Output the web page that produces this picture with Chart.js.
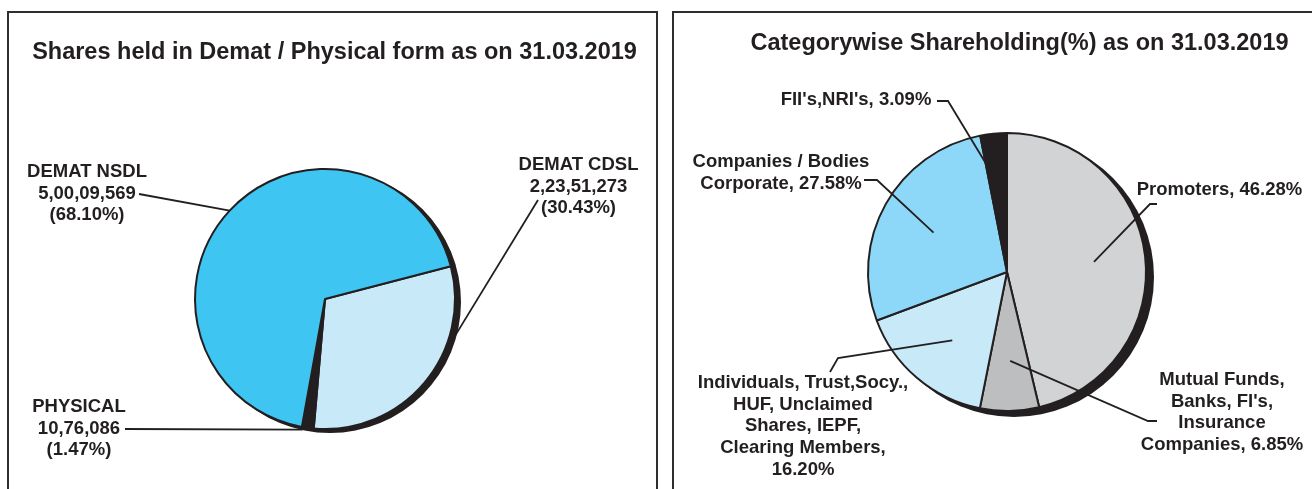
<!DOCTYPE html>
<html>
<head>
<meta charset="utf-8">
<script src="https://cdn.jsdelivr.net/npm/chart.js@4.4.1/dist/chart.umd.min.js"></script>
<style>
html, body { margin: 0; padding: 0; background: #fff; overflow: hidden; }
body { width: 1312px; height: 489px; position: relative; }
.panel { position: absolute; border: 2px solid #2e2e2e; box-sizing: border-box; }
canvas { position: absolute; top: 0; }
</style>
</head>
<body>
<div class="panel" style="left:7px;top:11px;width:651px;height:540px"></div>
<div class="panel" style="left:672px;top:11px;width:700px;height:540px"></div>
<canvas id="demat" width="665" height="489" style="left:0"></canvas>
<canvas id="category" width="647" height="489" style="left:665px"></canvas>
<script>
// left chart: shares held in demat / physical form
const dematLabels = ['DEMAT CDSL', 'PHYSICAL', 'DEMAT NSDL'];
const dematShares = [22351273, 1076086, 50009569];
const dematPercent = [30.43, 1.47, 68.10];
const dematColors = ['#c7e9f8', '#231f20', '#3ec5f1'];

// right chart: categorywise shareholding
const categoryLabels = [
    ['Promoters'],
    ['Mutual Funds,', "Banks, FI's,", 'Insurance', 'Companies'],
    ['Individuals, Trust,Socy.,', 'HUF, Unclaimed', 'Shares, IEPF,', 'Clearing Members,', ''],
    ['Companies / Bodies', 'Corporate'],
    ["FII's,NRI's"]
];
const categoryPercent = [46.28, 6.85, 16.20, 27.58, 3.09];
const categoryColors = ['#d1d3d4', '#bcbec0', '#c7e9f8', '#8dd8f8', '#231f20'];

const ink = '#231f20';
const font = '"Liberation Sans", Arial, sans-serif';

// 50009569 -> 5,00,09,569
const indianFormat = (n) => {
    let s = String(n);
    let rest = s.slice(0, -3);
    if (rest) rest = rest.replace(/\B(?=(\d{2})+(?!\d))/g, ',') + ',';
    return rest + s.slice(-3);
};

const dematText = (i) => [dematLabels[i], indianFormat(dematShares[i]), '(' + dematPercent[i].toFixed(2) + '%)'];

const categoryText = (i) => {
    let lines = categoryLabels[i].slice();
    let last = lines.length - 1;
    let pct = categoryPercent[i].toFixed(2) + '%';
    lines[last] = lines[last] ? lines[last] + ', ' + pct : pct;
    return lines;
};

// label placement, canvas coordinates
const layouts = {
    demat: {
        title: 'Shares held in Demat / Physical form as on 31.03.2019',
        titleX: 334.5, titleY: 53,
        shadow: [5, 3],
        text: dematText,
        callouts: [
            { x: 578.5, y: 165, path: [[538, 200]], at: 0.32, r: 1.02 },
            { x: 79, y: 407, path: [[125, 429]], at: 0.9, r: 1.02 },
            { x: 87, y: 172, path: [[139, 194]], at: 0.5, r: 1.0 }
        ]
    },
    category: {
        title: 'Categorywise Shareholding(%) as on 31.03.2019',
        titleX: 354.5, titleY: 43.5,
        shadow: [7, 5],
        text: categoryText,
        callouts: [
            { x: 554.5, y: 190, path: [[492, 204], [485, 204]], at: 0.5, r: 0.63 },
            { x: 557, y: 380, path: [[492, 421], [483, 421]], at: 0.46, r: 0.64 },
            { x: 138, y: 383, path: [[165, 372], [173, 358]], at: 0.47, r: 0.63 },
            { x: 116, y: 162, path: [[199, 180], [212, 180]], at: 0.49, r: 0.6 },
            { x: 191, y: 100, path: [[272, 101], [283, 101]], at: 0.05, r: 0.78 }
        ]
    }
};

const calloutPlugin = {
    id: 'callouts',
    beforeDatasetsDraw(chart) {
        const setup = layouts[chart.canvas.id];
        const arc = chart.getDatasetMeta(0).data[0];
        const ctx = chart.ctx;
        ctx.save();
        ctx.fillStyle = ink;
        ctx.beginPath();
        ctx.arc(arc.x + setup.shadow[0], arc.y + setup.shadow[1], arc.outerRadius + 1, 0, Math.PI * 2);
        ctx.fill();
        ctx.restore();
    },
    afterDatasetsDraw(chart) {
        const setup = layouts[chart.canvas.id];
        const meta = chart.getDatasetMeta(0);
        const ctx = chart.ctx;
        ctx.save();
        ctx.fillStyle = ink;
        ctx.strokeStyle = ink;
        ctx.textAlign = 'center';
        ctx.textBaseline = 'middle';
        ctx.font = 'bold 23.5px ' + font;
        ctx.fillText(setup.title, setup.titleX, setup.titleY);
        ctx.font = 'bold 18.5px ' + font;
        ctx.lineWidth = 1.8;
        setup.callouts.forEach((c, i) => {
            const el = meta.data[i];
            const a = el.startAngle + (el.endAngle - el.startAngle) * c.at;
            const r = el.outerRadius * c.r;
            setup.text(i).forEach((t, k) => ctx.fillText(t, c.x, c.y + k * 21.7));
            ctx.beginPath();
            c.path.forEach((p, k) => k ? ctx.lineTo(p[0], p[1]) : ctx.moveTo(p[0], p[1]));
            ctx.lineTo(el.x + Math.cos(a) * r, el.y + Math.sin(a) * r);
            ctx.stroke();
        });
        ctx.restore();
    }
};

const makePie = (id, labels, values, colors, rotation, radius, cx, cy) => {
    const canvas = document.getElementById(id);
    return new Chart(canvas, {
        type: 'pie',
        data: {
            labels: labels,
            datasets: [{
                data: values,
                backgroundColor: colors,
                borderColor: ink,
                borderWidth: 2,
                radius: radius
            }]
        },
        options: {
            responsive: false,
            animation: false,
            events: [],
            rotation: rotation,
            layout: {
                padding: {
                    left: cx - radius,
                    right: canvas.width - cx - radius,
                    top: cy - radius,
                    bottom: canvas.height - cy - radius
                }
            },
            plugins: {
                legend: { display: false },
                tooltip: { enabled: false },
                title: { display: false }
            }
        },
        plugins: [calloutPlugin]
    });
};

makePie('demat', dematLabels, dematShares, dematColors, 75.4, 130, 325, 299);
makePie('category', categoryLabels, categoryPercent, categoryColors, 0, 139, 342, 272);
</script>
</body>
</html>
